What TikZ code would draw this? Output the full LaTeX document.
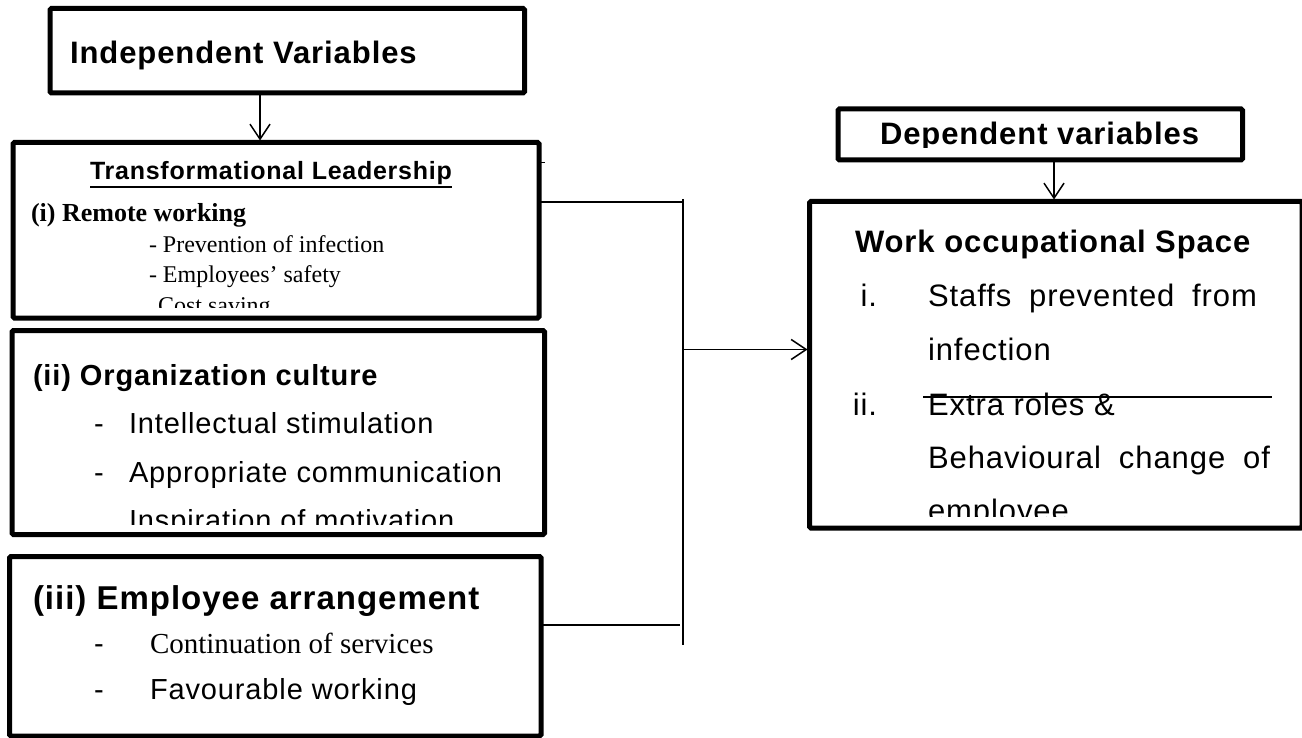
\documentclass[tikz,border=0pt]{standalone}
\usepackage{fontspec}
\setmainfont{Liberation Serif}
\newfontfamily\arialf{Liberation Sans}
\usetikzlibrary{arrows.meta}
\newcommand\txsize[1]{\fontsize{#1}{#1}\selectfont}

\begin{document}
\begin{tikzpicture}[x=1pt,y=-1pt,
  frame/.style={draw, line width=5pt, rounded corners=1.5pt, inner sep=0pt, outer sep=0pt, anchor=north west},
  conn/.style={line width=1.5pt},
  arr/.style={conn, -{Straight Barb[length=15pt,width=20pt,line width=1.5pt]}, shorten >=2pt},
  txt/.style={inner sep=0pt, outer sep=0pt, anchor=base west},
  bhead/.style={txt, font=\arialf\bfseries\txsize{#1}\addfontfeatures{LetterSpace=3}},
  body/.style={txt, font=\arialf\txsize{#1}\addfontfeatures{LetterSpace=3}},
  serif/.style={txt, font=\rmfamily\txsize{#1}},
  serifb/.style={txt, font=\rmfamily\bfseries\txsize{#1}},
]
\useasboundingbox (0,0) rectangle (1302,738);

% frames
\node[frame, minimum width=474.5pt, minimum height=84.5pt]  (iv) at (50,8.5) {};
\node[frame, minimum width=526pt,   minimum height=175.5pt] (b1) at (13,142.5) {};
\node[frame, minimum width=532.5pt, minimum height=204pt]   (b2) at (12,330.5) {};
\node[frame, minimum width=531.5pt, minimum height=179.5pt] (b3) at (9.5,556.5) {};
\node[frame, minimum width=404.5pt, minimum height=51pt]    (dv) at (838,109) {};
\node[frame, minimum width=492.5pt, minimum height=326.5pt] (ws) at (809.5,201.5) {};

% independent variables heading
\node[bhead=31] (ivt) at (70,64) {Independent Variables};

% box 1: transformational leadership
\begin{scope}
  \clip (16,145) rectangle (536,308);
  \node[bhead=25] (tl) at (90,180) {Transformational Leadership};
  \draw[line width=1.8pt] ([yshift=-7pt]tl.base west) -- ([yshift=-7pt]tl.base east);
  \node[serifb=26] (rw) at (31,222) {(i) Remote working};
  \node[serif=24] (p1) at (149,253) {- Prevention of infection};
  \node[serif=24] (p2) at (149,283) {- Employees’ safety};
  \node[serif=24] (p3) at (158,313) {Cost saving};
\end{scope}

% box 2: organization culture
\begin{scope}
  \clip (15,334) rectangle (541,524);
  \node[bhead=29] (oc) at (33,385) {(ii) Organization culture};
  \node[body=29] (d21) at (94,433) {-};
  \node[body=29] (q1) at (129,433) {Intellectual stimulation};
  \node[body=29] (d22) at (94,482) {-};
  \node[body=29] (q2) at (129,482) {Appropriate communication};
  \node[body=29] (q3) at (129,530) {Inspiration of motivation};
\end{scope}

% box 3: employee arrangement
\node[bhead=33] (ea) at (33,609) {(iii) Employee arrangement};
\node[body=29] (d31) at (94,653) {-};
\node[serif=29] (r1) at (150,653) {Continuation of services};
\node[body=29] (d32) at (94,699) {-};
\node[body=29] (r2) at (150,699) {Favourable working};

% dependent variables heading
\begin{scope}
  \clip (841,112) rectangle (1240,148);
  \node[bhead=31] (dvt) at (880,145) {Dependent variables};
\end{scope}

% work occupational space
\begin{scope}
  \clip (812,204) rectangle (1299,516);
  \node[bhead=31] (wt) at (855,253) {Work occupational Space};
  \node[body=31, anchor=base east] (n1) at (877,307) {i.};
  \node[body=31] (w1) at (928,307) {\makebox[329pt][s]{Staffs prevented from}};
  \node[body=31] (w2) at (928,360) {infection};
  \node[body=31, anchor=base east] (n2) at (877,415) {ii.};
  \node[body=31] (w3) at (928,415) {Extra roles \&};
  \node[body=31] (w4) at (928,468) {\makebox[342pt][s]{Behavioural change of}};
  \node[body=31] (w5) at (928,521) {employee};
\end{scope}
\draw[conn] (923,397) -- (1272,397);

% connectors
\coordinate (ax) at (260,0);
\coordinate (dx) at (1054,0);
\coordinate (tk) at (545,163);
\coordinate (j)  at (683,202);
\coordinate (jt) at (683,199);
\coordinate (jb) at (683,645);
\coordinate (ja) at (683,349.5);
\coordinate (j3) at (680,625);

\draw[arr] (iv.south -| ax) -- (b1.north -| ax);
\draw[arr] (dv.south -| dx) -- (ws.north -| dx);
\draw[line width=1pt] (b1.east |- tk) -- (tk);
\draw[conn] (b1.east |- j) -- (j);
\draw[conn] (jt) -- (jb);
\draw[conn] (b3.east |- j3) -- (j3);
\draw[arr] (ja) -- (ws.west |- ja);
\end{tikzpicture}
\end{document}
